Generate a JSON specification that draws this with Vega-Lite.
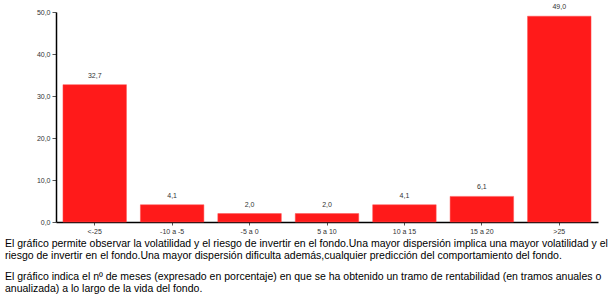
{
  "$schema": "https://vega.github.io/schema/vega-lite/v6.json",
  "width": 542,
  "height": 210,
  "autosize": {"type": "none"},
  "padding": {"left": 56, "top": 12, "right": 18, "bottom": 72},
  "background": "white",
  "config": {
    "locale": {"number": {"decimal": ",", "thousands": ".", "grouping": [3], "currency": ["", " €"]}},
    "view": {"stroke": null},
    "font": "Liberation Sans"
  },
  "title": {
    "text": [
      "El gráfico permite observar la volatilidad y el riesgo de invertir en el fondo.Una mayor dispersión implica una mayor volatilidad y el",
      "riesgo de invertir en el fondo.Una mayor dispersión dificulta además,cualquier predicción del comportamiento del fondo."
    ],
    "subtitle": [
      "El gráfico indica el nº de meses (expresado en porcentaje) en que se ha obtenido un tramo de rentabilidad (en tramos anuales o",
      "anualizada) a lo largo de la vida del fondo."
    ],
    "orient": "bottom",
    "anchor": "start",
    "frame": "group",
    "dx": -51,
    "offset": 5,
    "fontSize": 10.5,
    "fontWeight": "normal",
    "font": "Liberation Sans",
    "color": "#000000",
    "lineHeight": 11.7,
    "subtitleFontSize": 10.5,
    "subtitleFont": "Liberation Sans",
    "subtitleColor": "#000000",
    "subtitleLineHeight": 11.7,
    "subtitlePadding": 11
  },
  "data": {
    "values": [
      {"tramo": "<-25", "valor": 32.7},
      {"tramo": "-10 a -5", "valor": 4.1},
      {"tramo": "-5 a 0", "valor": 2.0},
      {"tramo": "5 a 10", "valor": 2.0},
      {"tramo": "10 a 15", "valor": 4.1},
      {"tramo": "15 a 20", "valor": 6.1},
      {"tramo": ">25", "valor": 49.0}
    ]
  },
  "encoding": {
    "x": {
      "field": "tramo",
      "type": "nominal",
      "sort": null,
      "scale": {"paddingInner": 0.18, "paddingOuter": 0.09},
      "axis": {
        "title": null,
        "labelAngle": 0,
        "labelFontSize": 7,
        "labelColor": "#333333",
        "domainColor": "#000000",
        "domainWidth": 1.5,
        "tickColor": "#555555",
        "tickSize": 3,
        "labelPadding": 2
      }
    },
    "y": {
      "field": "valor",
      "type": "quantitative",
      "scale": {"domain": [0, 50]},
      "axis": {
        "title": null,
        "values": [0, 10, 20, 30, 40, 50],
        "format": ".1f",
        "grid": false,
        "labelFontSize": 7,
        "labelColor": "#333333",
        "domainColor": "#000000",
        "domainWidth": 1.5,
        "tickColor": "#555555",
        "tickSize": 4,
        "labelPadding": 2
      }
    }
  },
  "layer": [
    {"mark": {"type": "bar", "color": "#ff1a1a", "stroke": "#ff5050", "strokeWidth": 0.5}},
    {
      "mark": {"type": "text", "dy": -6, "fontSize": 7, "color": "#333333", "baseline": "bottom"},
      "encoding": {"text": {"field": "valor", "type": "quantitative", "format": ".1f"}}
    }
  ]
}
